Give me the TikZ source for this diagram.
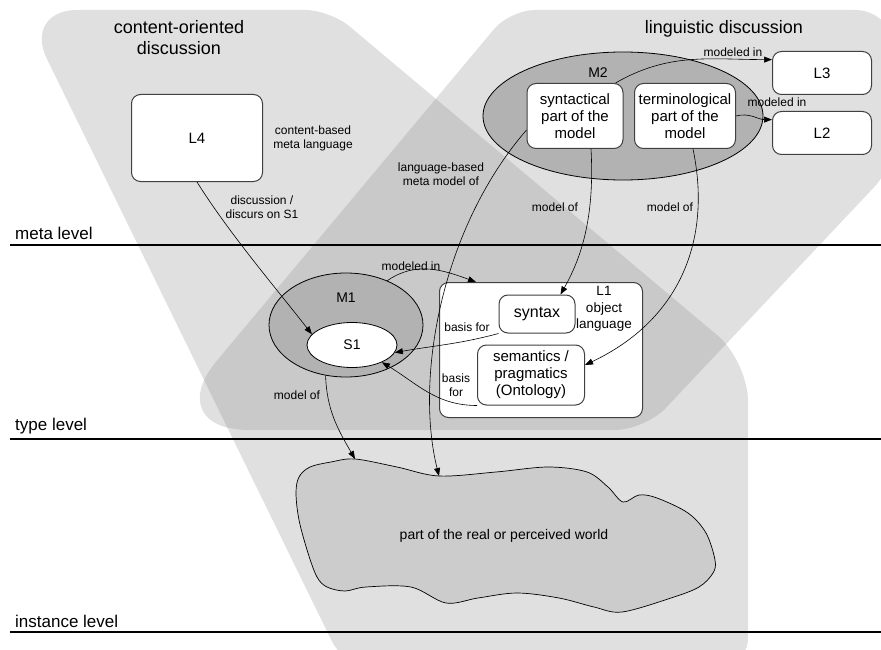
\documentclass[tikz,border=0pt]{standalone}
\usepackage{fontspec}
\setmainfont{Liberation Sans}
\usetikzlibrary{arrows.meta,shapes.geometric}
\definecolor{areagray}{gray}{0.88}
\definecolor{overlapgray}{gray}{0.79}
\definecolor{modelgray}{gray}{0.70}
\definecolor{worldgray}{gray}{0.80}
\definecolor{edgegray}{gray}{0.25}
\newcommand{\contentarea}{(200,-10) [rounded corners=25pt] -- (330,-10) [rounded corners=40pt] -- (748,-361) [rounded corners=30pt] -- (748,-668) -- (345,-668) [rounded corners=54pt] -- (23,-10) -- cycle}
\newcommand{\lingarea}{(700,-10) [rounded corners=40pt] -- (895,-10) [rounded corners=30pt] -- (895,-165) -- (645,-430) [rounded corners=90pt] -- (159,-430) [rounded corners=25pt] -- (510,-10) -- cycle}
\begin{document}
\begin{tikzpicture}[x=1pt, y=1pt,
    box/.style={draw=edgegray, line width=1pt, fill=white, rounded corners=9pt, align=center, inner sep=2pt, font=\fontsize{15}{17}\selectfont},
    txt/.style={font=\fontsize{12}{14}\selectfont, align=center, inner sep=1pt},
    model/.style={ellipse, draw, line width=0.8pt, fill=modelgray, inner sep=0pt},
    conn/.style={-{Triangle[length=8pt,width=6pt]}, line width=0.6pt},
    levelline/.style={line width=2.8pt},
    levellbl/.style={font=\fontsize{17}{20}\selectfont, anchor=base west, inner sep=0pt},
    title/.style={font=\fontsize{18}{21}\selectfont, align=center}
]
    \useasboundingbox (0,0) rectangle (881,-650);
    % discussion areas and their overlap
    \fill[areagray] \contentarea;
    \fill[areagray] \lingarea;
    \begin{scope}
        \clip \contentarea;
        \fill[overlapgray] \lingarea;
    \end{scope}
    \node[title] (tcontent) at (179,-38) {content-oriented\\discussion};
    \node[title] (tling) at (724,-29) {linguistic discussion};

    % levels
    \draw[levelline] (10,-245) -- (881,-245);
    \draw[levelline] (10,-439) -- (881,-439);
    \draw[levelline] (10,-632) -- (881,-632);
    \node[levellbl] (lmeta) at (15,-239) {meta level};
    \node[levellbl] (ltype) at (15,-430) {type level};
    \node[levellbl] (linst) at (15,-627) {instance level};

    % world
    \draw[fill=worldgray, line width=0.7pt] plot[smooth cycle, tension=0.55] coordinates {
        (296,-493) (299,-477) (310,-467) (331,-462) (355,-459) (397,-467) (439,-476)
        (496,-472) (548,-467) (587,-472) (608,-487) (623,-502) (639,-495) (657,-498)
        (688,-513) (706,-533) (715,-560) (713,-573) (699,-587) (671,-598) (622,-612)
        (594,-607) (559,-598) (517,-593) (478,-598) (446,-603) (411,-587) (366,-587)
        (345,-591) (327,-587) (317,-577) (308,-553) (299,-520)};
    \coordinate (w1) at (355,-459);
    \coordinate (w2) at (439,-476);
    \node[txt, font=\fontsize{14}{16}\selectfont] (world) at (504,-536) {part of the real or perceived world};

    % meta level
    \node[box, minimum width=131pt, minimum height=87pt] (L4) at (197,-138) {L4};
    \node[txt] (lblL4) at (313,-138) {content-based\\meta language};
    \node[model, minimum width=280pt, minimum height=128pt] (M2) at (623,-116) {};
    \node[txt, font=\fontsize{14}{16}\selectfont] (lblM2) at (598,-73) {M2};
    \node[box, minimum width=96pt, minimum height=65pt] (synpart) at (575,-116) {syntactical\\part of the\\model};
    \node[box, minimum width=101pt, minimum height=65pt] (termpart) at (685,-116) {terminological\\part of the\\model};
    \node[box, minimum width=99pt, minimum height=43pt] (L3) at (822,-73) {L3};
    \node[box, minimum width=99pt, minimum height=43pt] (L2) at (822,-133) {L2};

    % type level
    \node[model, minimum width=154pt, minimum height=104pt] (M1) at (346,-325) {};
    \node[txt, font=\fontsize{14}{16}\selectfont] (lblM1) at ([yshift=-25pt]M1.north) {M1};
    \node[ellipse, draw, line width=0.8pt, fill=white, minimum width=90pt, minimum height=45pt, inner sep=0pt, font=\fontsize{14}{16}\selectfont] (S1) at (352,-345) {S1};
    \node[box, minimum width=203pt, minimum height=135pt] (L1) at (541,-350) {};
    \node[txt, font=\fontsize{13.5}{16.5}\selectfont] (lblL1) at (604,-309) {L1\\object\\language};
    \node[box, minimum width=76pt, minimum height=38pt, font=\fontsize{16}{18}\selectfont] (syntax) at (537,-314) {syntax};
    \node[box, minimum width=107pt, minimum height=60pt] (sem) at (531,-375) {semantics /\\pragmatics\\(Ontology)};

    % connectors
    \draw[conn] (L4.south) to[out=-58, in=128, looseness=0.8] (S1.165);
    \draw[conn] (M1.-112) to[out=-88, in=120] (w1);
    \draw[conn] ([yshift=-14pt]synpart.west) .. controls (440,-230) and (415,-380) .. (w2);
    \draw[conn] ([xshift=16pt]synpart.south) .. controls (595,-220) and (580,-260) .. ([xshift=-15pt]syntax.north east);
    \draw[conn] ([xshift=8pt]termpart.south) .. controls (712,-240) and (680,-320) .. ([yshift=10pt]sem.east);
    \draw[conn] ([xshift=-8pt]synpart.north east) to[out=30, in=180] (L3.165);
    \draw[conn] (termpart.east) to[out=15, in=180] (L2.165);
    \draw[conn] (M1.47) to[out=35, in=160] ([xshift=37pt]L1.north west);
    \draw[conn] (syntax.south west) to[out=195, in=10] (S1.-10);
    \draw[conn] (sem.south west) to[out=180, in=-31] (S1.-30);

    % connector labels
    \node[txt] (lbldisc) at (262,-207) {discussion /\\discurs on S1};
    \node[txt] (lbllang) at (441,-174) {language-based\\meta model of};
    \node[txt] (lblsyn) at (555,-207) {model of};
    \node[txt] (lblterm) at (670,-207) {model of};
    \node[txt] (lblL3) at (733,-52) {modeled in};
    \node[txt] (lblL2) at (777,-102) {modeled in};
    \node[txt] (lblL1) at (411,-266) {modeled in};
    \node[txt] (lblbasis) at (467,-327) {basis for};
    \node[txt] (lblbasisb) at (456,-385) {basis\\for};
    \node[txt] (lblworld) at (297,-395) {model of};
\end{tikzpicture}
\end{document}
